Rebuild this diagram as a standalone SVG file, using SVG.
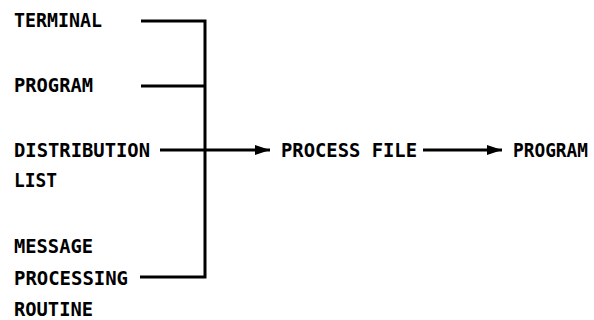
<svg xmlns="http://www.w3.org/2000/svg" width="594" height="320" viewBox="0 0 594 320">
<style>
text{font-family:"DejaVu Sans Mono","Liberation Mono",monospace;font-weight:bold;font-size:19px;fill:#000}
.ln{stroke:#000;stroke-width:3;fill:none}
</style>
<defs>
<marker id="ah" markerUnits="userSpaceOnUse" markerWidth="16" markerHeight="12" refX="15" refY="6" orient="auto">
<path d="M0,1 L15,6 L0,11 Z" fill="#000"/>
</marker>
</defs>
<rect width="594" height="320" fill="#fff"/>
<g id="terminal"><text x="14" y="27" textLength="88" lengthAdjust="spacingAndGlyphs">TERMINAL</text></g>
<g id="program-in"><text x="14" y="92" textLength="79" lengthAdjust="spacingAndGlyphs">PROGRAM</text></g>
<g id="distribution-list"><text x="14" y="157" textLength="136" lengthAdjust="spacingAndGlyphs">DISTRIBUTION</text><text x="14" y="187" textLength="43" lengthAdjust="spacingAndGlyphs">LIST</text></g>
<g id="message-processing-routine"><text x="14" y="253" textLength="79" lengthAdjust="spacingAndGlyphs">MESSAGE</text><text x="14" y="285" textLength="114" lengthAdjust="spacingAndGlyphs">PROCESSING</text><text x="14" y="316" textLength="79" lengthAdjust="spacingAndGlyphs">ROUTINE</text></g>
<g id="process-file"><text x="281" y="157" textLength="136" lengthAdjust="spacingAndGlyphs">PROCESS FILE</text></g>
<g id="program-out"><text x="513" y="157" textLength="75" lengthAdjust="spacingAndGlyphs">PROGRAM</text></g>
<g id="connectors">
<path class="ln" d="M141,21 H205 V277 H140"/>
<path class="ln" d="M141,86 H205"/>
<path class="ln" d="M160,150 H270" marker-end="url(#ah)"/>
<path class="ln" d="M423,150 H502" marker-end="url(#ah)"/>
</g>
</svg>
